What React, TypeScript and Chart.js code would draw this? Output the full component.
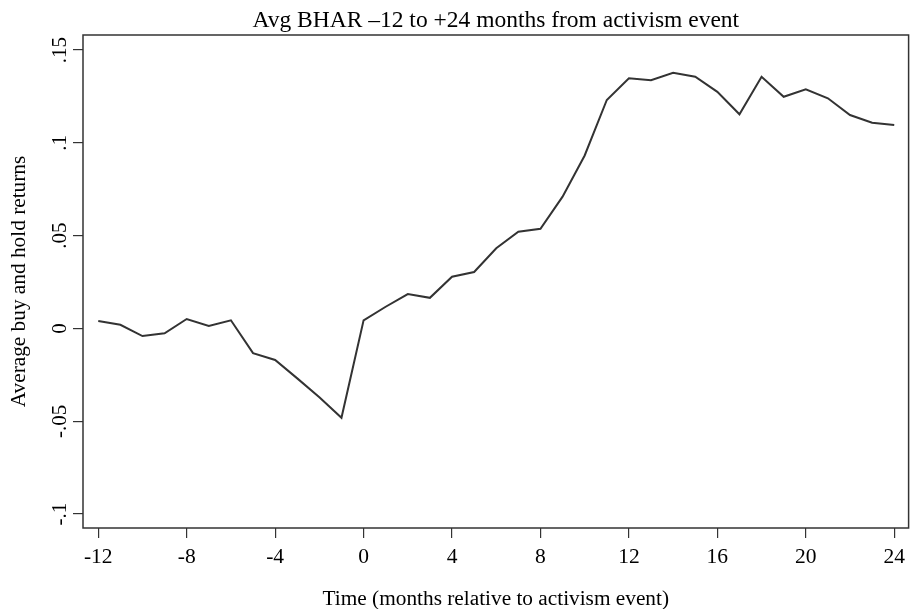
import React, { useEffect, useRef } from "react";
import { Chart, registerables } from "chart.js";

Chart.register(...registerables);

const chartTitle = "Avg BHAR \u201312 to +24 months from activism event";
const xAxisTitle = "Time (months relative to activism event)";
const yAxisTitle = "Average buy and hold returns";

const months = [
  -12, -11, -10, -9, -8, -7, -6, -5, -4, -3, -2, -1, 0, 1, 2, 3, 4, 5, 6, 7, 8,
  9, 10, 11, 12, 13, 14, 15, 16, 17, 18, 19, 20, 21, 22, 23, 24,
];
const avgBhar = [
  0.004, 0.002, -0.0041, -0.0026, 0.0051, 0.0013, 0.0044, -0.0133, -0.017,
  -0.0269, -0.0371, -0.0481, 0.0044, 0.0117, 0.0185, 0.0165, 0.0279, 0.0304,
  0.0432, 0.0521, 0.0537, 0.071, 0.0932, 0.1231, 0.1348, 0.1337, 0.1378,
  0.1356, 0.1275, 0.1154, 0.1356, 0.1248, 0.1288, 0.124, 0.115, 0.1108, 0.1096,
];
const xTicks = [-12, -8, -4, 0, 4, 8, 12, 16, 20, 24];
const yTicks = [-0.1, -0.05, 0, 0.05, 0.1, 0.15];
const yTickLabels = ["-.1", "-.05", "0", ".05", ".1", ".15"];

const FONT = "'Liberation Serif', 'DejaVu Serif', serif";
const INK = "#333333";

const framePlugin = {
  id: "stataFrame",
  afterDraw(chart: any) {
    const { ctx, chartArea } = chart;
    const yScale = chart.scales.y;
    ctx.save();
    // plot frame
    ctx.strokeStyle = INK;
    ctx.lineWidth = 1.5;
    ctx.strokeRect(
      chartArea.left,
      chartArea.top,
      chartArea.right - chartArea.left,
      chartArea.bottom - chartArea.top
    );
    // title
    ctx.fillStyle = "#000";
    ctx.font = `23.5px ${FONT}`;
    ctx.textAlign = "center";
    ctx.textBaseline = "middle";
    ctx.fillText(chartTitle, (chartArea.left + chartArea.right) / 2, 21);
    // rotated y tick labels
    ctx.font = `21px ${FONT}`;
    yTicks.forEach((v, i) => {
      const py = yScale.getPixelForValue(v);
      ctx.save();
      ctx.translate(60, py);
      ctx.rotate(-Math.PI / 2);
      ctx.textAlign = "center";
      ctx.textBaseline = "middle";
      ctx.fillText(yTickLabels[i], 0, 0);
      ctx.restore();
    });
    ctx.restore();
  },
};

export default function App() {
  const canvasRef = useRef<HTMLCanvasElement | null>(null);

  useEffect(() => {
    const canvas = canvasRef.current;
    if (!canvas) return;
    const chart = new Chart(canvas, {
      type: "line",
      data: {
        datasets: [
          {
            data: months.map((m, i) => ({ x: m, y: avgBhar[i] })),
            borderColor: INK,
            borderWidth: 2,
            pointRadius: 0,
            tension: 0,
            fill: false,
          },
        ],
      },
      options: {
        responsive: false,
        animation: false,
        devicePixelRatio: 1,
        layout: { padding: { left: 0, right: 1, top: 35, bottom: 0 } },
        plugins: {
          legend: { display: false },
          title: { display: false },
          tooltip: { enabled: false },
        },
        scales: {
          x: {
            type: "linear",
            min: -12.69,
            max: 24.65,
            afterBuildTicks: (scale: any) => {
              scale.ticks = xTicks.map((v) => ({ value: v }));
            },
            afterFit: (scale: any) => {
              scale.height = 81;
            },
            border: { display: false },
            grid: {
              drawOnChartArea: false,
              drawTicks: true,
              tickLength: 10,
              color: INK,
              lineWidth: 1.2,
            },
            ticks: {
              autoSkip: false,
              maxRotation: 0,
              padding: 6,
              color: "#000",
              font: { family: FONT, size: 21.5 },
              callback: (v: any) => String(v),
            },
            title: {
              display: true,
              text: xAxisTitle,
              color: "#000",
              font: { family: FONT, size: 21.3, lineHeight: 0.9 },
              padding: { top: 0, bottom: 0 },
            },
          },
          y: {
            type: "linear",
            min: -0.1075,
            max: 0.1581,
            afterBuildTicks: (scale: any) => {
              scale.ticks = yTicks.map((v) => ({ value: v }));
            },
            afterFit: (scale: any) => {
              scale.width = 83;
            },
            border: { display: false },
            grid: {
              drawOnChartArea: false,
              drawTicks: true,
              tickLength: 10,
              color: INK,
              lineWidth: 1.2,
            },
            ticks: { display: false },
            title: {
              display: true,
              text: yAxisTitle,
              color: "#000",
              font: { family: FONT, size: 21.3 },
              padding: { top: 7, bottom: 0 },
            },
          },
        },
      },
      plugins: [framePlugin],
    } as any);
    return () => chart.destroy();
  }, []);

  return (
    <div
      style={{
        position: "fixed",
        left: 0,
        top: 0,
        width: 911,
        height: 609,
        background: "#fff",
      }}
    >
      <canvas
        ref={canvasRef}
        width={911}
        height={609}
        style={{ display: "block", width: 911, height: 609 }}
      />
    </div>
  );
}
